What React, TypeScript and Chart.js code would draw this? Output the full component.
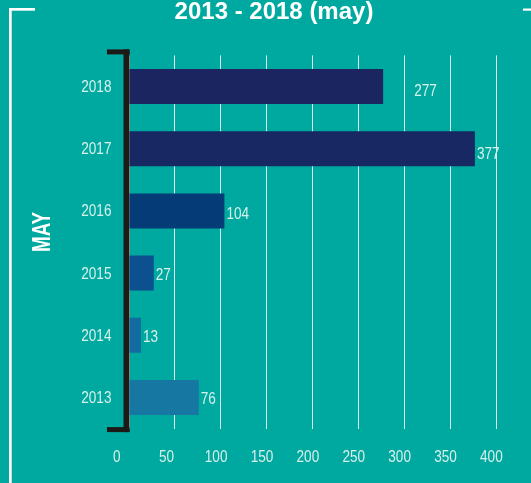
import React, { useEffect, useRef } from "react";
import { Chart, registerables } from "chart.js";

Chart.register(...registerables);

// ---- data ----
const categories = ["2018", "2017", "2016", "2015", "2014", "2013"];
const values = [277, 377, 104, 27, 13, 76];
const barColors = ["#1b2560", "#172862", "#053c78", "#0c5090", "#146ba0", "#1677a3"];
const xMin = 0;
const xMax = 400;
const xStep = 50;
const titleText = "2013 - 2018 (may)";
const axisTitle = "MAY";
// small label nudges (as in the reference)
const labelNudgeX = [29, 0, 0, 0, 0, 0];
const labelNudgeY = [3.5, 4.5, 2.5, 0.5, 1, 0];

// ---- styles ----
const BG = "#00a99f";
const TEXT_LIGHT = "#d7f0eb";
const FAMILY = "'Liberation Sans', Arial, sans-serif";
const NARROW_SCALE = 0.8;
const W = 531;
const H = 483;

function narrowText(
  ctx: CanvasRenderingContext2D,
  text: string,
  x: number,
  y: number,
  align: CanvasTextAlign,
  size: number
) {
  ctx.save();
  ctx.font = `${size}px ${FAMILY}`;
  ctx.textAlign = align;
  ctx.textBaseline = "alphabetic";
  ctx.translate(x, y);
  ctx.scale(NARROW_SCALE, 1);
  ctx.fillText(text, 0, 0);
  ctx.restore();
}

const decorPlugin = {
  id: "decor",
  beforeDraw(chart: any) {
    const ctx = chart.ctx as CanvasRenderingContext2D;
    ctx.save();
    ctx.fillStyle = BG;
    ctx.fillRect(0, 0, chart.width, chart.height);
    // white frame pieces
    ctx.fillStyle = "#ffffff";
    ctx.fillRect(9, 8, 26, 2.7);
    ctx.fillRect(9, 8, 2.7, chart.height - 8);
    ctx.fillRect(523, 8.5, 8, 2.2);
    // title
    ctx.font = `bold 24px ${FAMILY}`;
    ctx.textAlign = "center";
    ctx.textBaseline = "alphabetic";
    ctx.fillText(titleText, 274, 19);
    // vertical axis title
    ctx.translate(40.5, 232);
    ctx.rotate(-Math.PI / 2);
    ctx.font = `bold 26px ${FAMILY}`;
    const w = ctx.measureText(axisTitle).width;
    ctx.scale(40 / w, 1);
    ctx.textAlign = "center";
    ctx.textBaseline = "alphabetic";
    ctx.fillText(axisTitle, 0, 9.5);
    ctx.restore();
  },
  beforeDatasetsDraw(chart: any) {
    const ctx = chart.ctx as CanvasRenderingContext2D;
    const area = chart.chartArea;
    ctx.save();
    ctx.fillStyle = "#1c1a17";
    const right = area.left + 0.5;
    const top = area.top - 6;
    const bottom = area.bottom + 3.5;
    ctx.fillRect(right - 6, top, 6, bottom - top);
    ctx.fillRect(right - 22.5, top, 22.5, 5);
    ctx.fillRect(right - 22.5, bottom - 5, 22.5, 5);
    ctx.restore();
  },
  afterDatasetsDraw(chart: any) {
    const ctx = chart.ctx as CanvasRenderingContext2D;
    ctx.save();
    ctx.fillStyle = TEXT_LIGHT;
    // value labels
    const meta = chart.getDatasetMeta(0);
    meta.data.forEach((bar: any, i: number) => {
      narrowText(ctx, String(values[i]), bar.x + 2 + labelNudgeX[i], bar.y + 6 + labelNudgeY[i], "left", 17);
    });
    // x tick labels
    const xs = chart.scales.x;
    xs.ticks.forEach((t: any, i: number) => {
      const px = xs.getPixelForTick(i);
      narrowText(ctx, String(t.label), px - 16, 461.5, "left", 17);
    });
    // y tick labels
    const ys = chart.scales.y;
    ys.ticks.forEach((t: any, i: number) => {
      const py = ys.getPixelForTick(i);
      narrowText(ctx, String(ys.getLabelForValue(t.value)), chart.chartArea.left - 17.5, py + 5.5, "right", 17);
    });
    ctx.restore();
  },
};

export default function App() {
  const ref = useRef<HTMLCanvasElement | null>(null);

  useEffect(() => {
    document.body.style.margin = "0";
    const canvas = ref.current;
    if (!canvas) return;
    const chart = new Chart(canvas, {
      type: "bar",
      data: {
        labels: categories,
        datasets: [
          {
            data: values,
            backgroundColor: barColors,
            borderWidth: 0,
            barPercentage: 0.563,
            categoryPercentage: 1,
          },
        ],
      },
      options: {
        indexAxis: "y",
        animation: false,
        responsive: false,
        devicePixelRatio: 1,
        layout: { padding: { top: 55.4, right: 35, left: 0, bottom: 0 } },
        plugins: {
          legend: { display: false },
          title: { display: false },
          tooltip: { enabled: false },
        },
        scales: {
          x: {
            min: xMin,
            max: xMax,
            grid: { color: "rgba(255,255,255,0.85)", lineWidth: 1, drawTicks: false },
            border: { display: false },
            ticks: {
              stepSize: xStep,
              display: false,
            },
            afterFit(scale: any) {
              scale.height = H - 428.6;
              scale.paddingLeft = 0;
              scale.paddingRight = 0;
            },
          },
          y: {
            grid: { display: false, drawTicks: false },
            border: { display: false },
            ticks: { display: false },
            afterFit(scale: any) {
              scale.width = 129;
              scale.paddingTop = 0;
              scale.paddingBottom = 0;
            },
          },
        },
      },
      plugins: [decorPlugin],
    } as any);
    return () => chart.destroy();
  }, []);

  return (
    <div style={{ position: "fixed", left: 0, top: 0, width: W, height: H, background: BG }}>
      <canvas ref={ref} width={W} height={H} style={{ display: "block", width: W, height: H }} />
    </div>
  );
}
